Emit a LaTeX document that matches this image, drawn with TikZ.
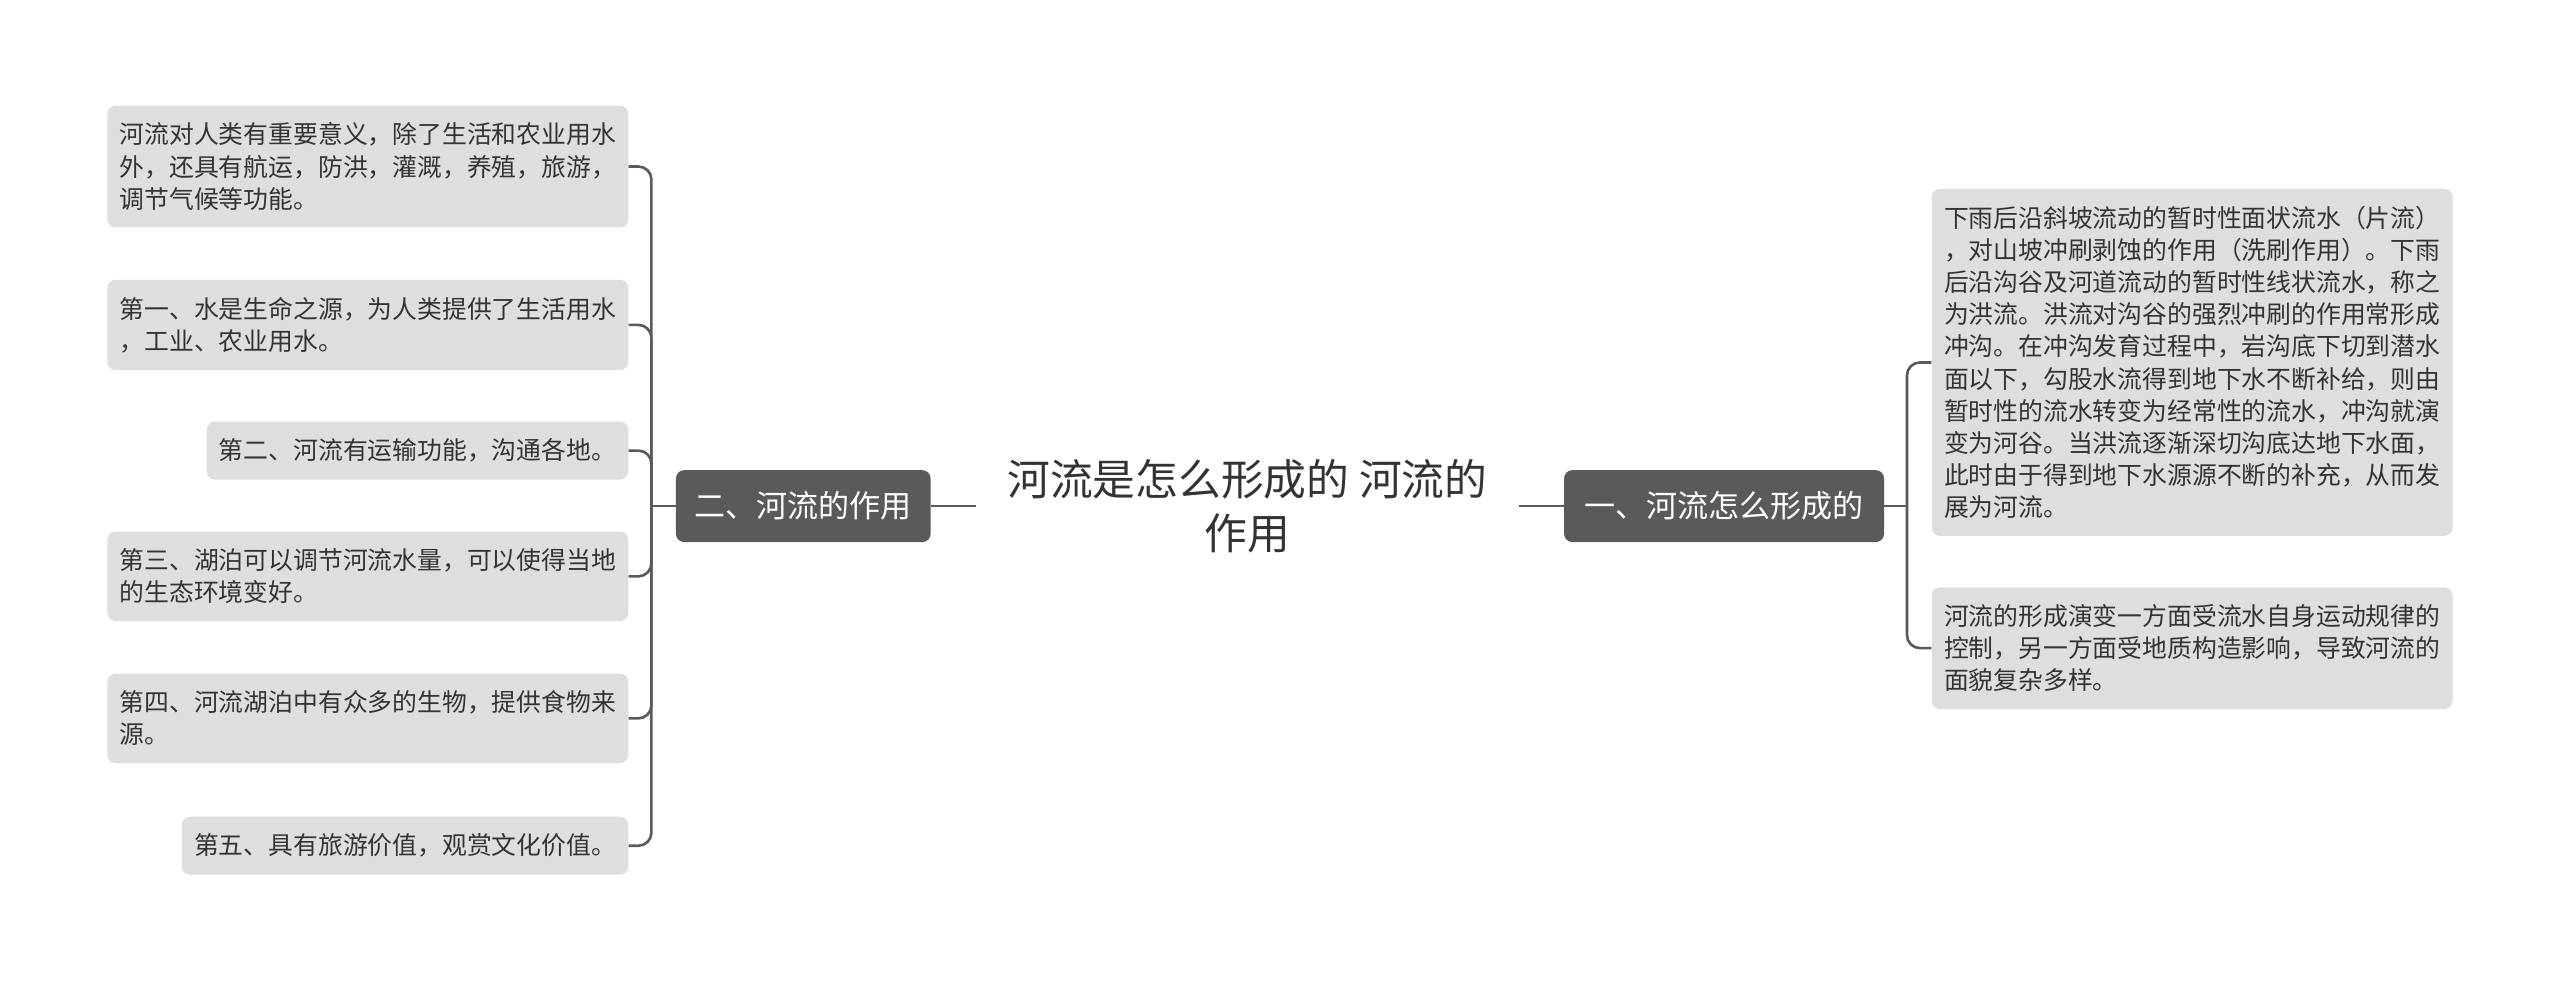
\documentclass[tikz,border=0pt]{standalone}
\usepackage{fontspec}
\setmainfont{Noto Sans CJK SC}
\usetikzlibrary{positioning}
\definecolor{boxgray}{HTML}{DEDEDE}
\definecolor{darkgray}{HTML}{5A5A5A}
\definecolor{txtgray}{HTML}{333333}

\begin{document}
\begin{tikzpicture}[x=1pt,y=-1pt]
  \tikzstyle{leaf}=[fill=boxgray,rounded corners=5pt,align=left,inner xsep=7.5pt,inner ysep=10.5pt,text=txtgray,font={\fontsize{15.2}{19.7}\selectfont}]
  \tikzstyle{branch}=[fill=darkgray,rounded corners=5pt,text=white,minimum height=44pt,inner sep=0pt,font={\fontsize{19}{22}\selectfont}]
  \tikzstyle{link}=[draw=darkgray,line width=1.6pt,rounded corners=8pt]
  \useasboundingbox (0,0) rectangle (1568,601);
  % centre and first level
  \node[align=center,text=txtgray,minimum width=332pt,inner sep=0pt,font={\fontsize{26.2}{33}\selectfont}] (root) at (764,310) {河流是怎么形成的 河流的\\作用};
  \node[branch,minimum width=156pt] (zy) at (492,310) {二、河流的作用};
  \node[branch,minimum width=196pt] (xc) at (1056,310) {一、河流怎么形成的};
  \coordinate (lj) at (399,310);
  \coordinate (rj) at (1168,310);
  % left leaves
  \node[leaf,anchor=east] (l1) at (385,102) {河流对人类有重要意义，除了生活和农业用水\\外，还具有航运，防洪，灌溉，养殖，旅游，\\调节气候等功能。};
  \node[leaf,anchor=east] (l2) at (385,199) {第一、水是生命之源，为人类提供了生活用水\\，工业、农业用水。};
  \node[leaf,anchor=east] (l3) at (385,276) {第二、河流有运输功能，沟通各地。};
  \node[leaf,anchor=east] (l4) at (385,353) {第三、湖泊可以调节河流水量，可以使得当地\\的生态环境变好。};
  \node[leaf,anchor=east] (l5) at (385,440) {第四、河流湖泊中有众多的生物，提供食物来\\源。};
  \node[leaf,anchor=east] (l6) at (385,518) {第五、具有旅游价值，观赏文化价值。};
  % right leaves
  \node[leaf,anchor=west] (r1) at (1183,222) {下雨后沿斜坡流动的暂时性面状流水（片流）\\，对山坡冲刷剥蚀的作用（洗刷作用）。下雨\\后沿沟谷及河道流动的暂时性线状流水，称之\\为洪流。洪流对沟谷的强烈冲刷的作用常形成\\冲沟。在冲沟发育过程中，岩沟底下切到潜水\\面以下，勾股水流得到地下水不断补给，则由\\暂时性的流水转变为经常性的流水，冲沟就演\\变为河谷。当洪流逐渐深切沟底达地下水面，\\此时由于得到地下水源源不断的补充，从而发\\展为河流。};
  \node[leaf,anchor=west] (r2) at (1183,397) {河流的形成演变一方面受流水自身运动规律的\\控制，另一方面受地质构造影响，导致河流的\\面貌复杂多样。};
  \draw[link] (root.west) -- (zy.east);
  \draw[link] (root.east) -- (xc.west);
  \draw[link] (zy.west) -- (lj);
  \draw[link] (xc.east) -- (rj);
  \foreach \n in {l1,l2,l3,l4,l5,l6}
    \draw[link] (lj) |- (\n.east);
  \foreach \n in {r1,r2}
    \draw[link] (rj) |- (\n.west);
\end{tikzpicture}
\end{document}
